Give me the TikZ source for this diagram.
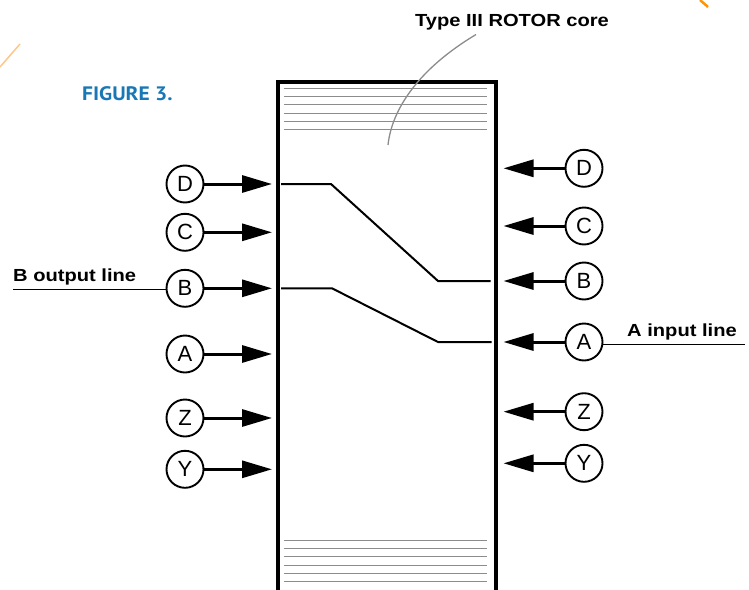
\documentclass[tikz,border=0pt]{standalone}
\usepackage{fontspec}
\setmainfont{Liberation Sans}
\newfontfamily\lblfont[FakeStretch=1.15]{Liberation Sans}
\newfontfamily\figfont[FakeStretch=1.1]{PT Sans}
\usetikzlibrary{arrows.meta}
\definecolor{figblue}{HTML}{1877B4}
\definecolor{hatchgray}{HTML}{8C8C8C}
\tikzset{
    pin/.style={draw, circle, line width=1.9pt, minimum size=37pt, inner sep=0pt, font=\fontsize{22}{22}\selectfont},
    feed/.style={line width=3pt, -{Triangle[length=30pt,width=17pt]}},
    wire/.style={line width=2pt},
    lbl/.style={font=\lblfont\bfseries\fontsize{17.5}{18}\selectfont, inner sep=0pt},
    under/.style={line width=0.9pt},
    hatch/.style={hatchgray, line width=1pt}
}
\begin{document}
\begin{tikzpicture}[x=1pt, y=-1pt]
    \useasboundingbox (0,0) rectangle (749,589);
    \clip (0,0) rectangle (749,589);

    % corner marks
    \draw[orange!45, line width=1.5pt] (0,67) -- (20,44);
    \draw[orange!85!yellow, line width=2.5pt] (700,0) -- (708,7);

    \node[anchor=base west, inner sep=0pt, text=figblue,
          font=\figfont\bfseries\fontsize{19.5}{20}\selectfont] (fig) at (82,100.7) {FIGURE 3.};

    % rotor core
    \node[draw, line width=3.5pt, minimum width=218pt, minimum height=520pt,
          anchor=north west, inner sep=0pt] (core) at (276,80) {};
    \foreach \y in {88.3,96.7,104.7,113,121.3,129.7,540,548.3,556.7,565,573.3,581.7}
        \draw[hatch] (284,\y) -- (487,\y);

    \node[lbl, anchor=base] (title) at (512,26.7) {Type III ROTOR core};
    \coordinate (calltip) at (388,145);
    \draw[hatchgray, line width=1.3pt] ([xshift=-36pt,yshift=-4pt]title.south)
        .. controls (420,68) and (392,108) .. (calltip);

    % contacts
    \foreach \n/\y in {D/184, C/232.3, B/288.3, A/354, Z/418, Y/469.3} {
        \node[pin] (l\n) at (185,\y) {\n};
        \draw[feed] (l\n) -- ([xshift=-4pt]l\n -| core.west);
    }
    \foreach \n/\y in {D/168.3, C/226, B/281, A/342, Z/411.7, Y/463.3} {
        \node[pin] (r\n) at (584,\y) {\n};
        \draw[feed] (r\n) -- ([xshift=6pt]r\n -| core.east);
    }

    % internal wiring
    \draw[wire] ([xshift=5pt]lD -| core.west) -- (331,184) -- (438,281) -- ([xshift=-7pt]rB -| core.east);
    \draw[wire] ([xshift=5pt]lB -| core.west) -- (332,288.3) -- (438,342) -- ([xshift=-6pt]rA -| core.east);

    % line labels
    \node[lbl, anchor=base west] (bout) at (13,281.7) {B output line};
    \draw[under] ([yshift=-1pt]lB -| bout.west) -- ([yshift=-1pt]lB.west);
    \node[lbl, anchor=base west] (ain) at (627,336) {A input line};
    \coordinate (ainend) at (745,344.3);
    \draw[under] (rA.east |- ainend) -- (ainend);
\end{tikzpicture}
\end{document}
